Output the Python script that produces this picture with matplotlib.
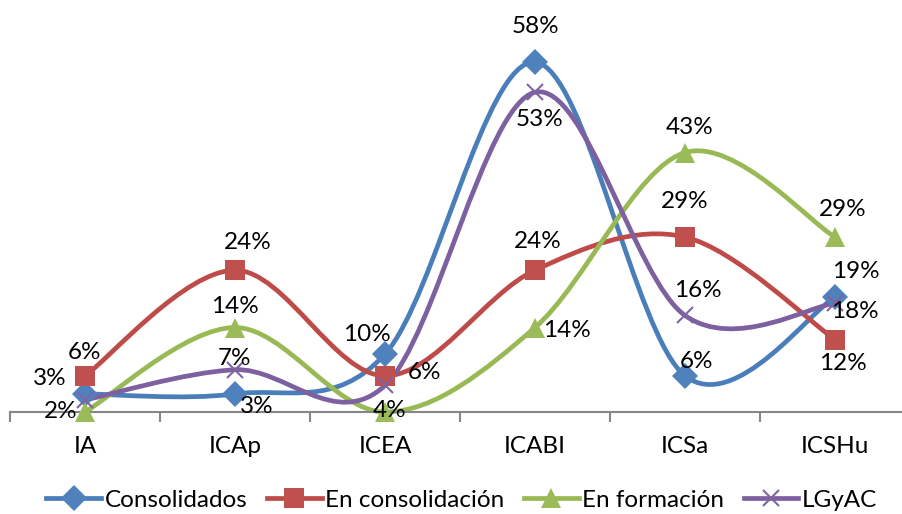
import numpy as np
import matplotlib
matplotlib.use('Agg')
import matplotlib.pyplot as plt
from matplotlib.path import Path
from matplotlib.patches import PathPatch
from matplotlib.lines import Line2D

plt.rcParams['font.family'] = ['Lato', 'DejaVu Sans']

# Data (percentages)
categorias = ['IA', 'ICAp', 'ICEA', 'ICABI', 'ICSa', 'ICSHu']
consolidados = [3, 3, 9.6, 58, 6, 19]
en_consolidacion = [6, 23.5, 6, 23.5, 29, 12]
en_formacion = [0, 14, 0, 14, 43, 29]
lgyac = [2, 7, 4.4, 53, 16, 18]
nombres = ['Consolidados', 'En consolidación', 'En formación', 'LGyAC']

# style per series: line colour, marker colour, marker, size
estilos = [
    ('#4A7EBB', '#4F81BD', 'D', 13),
    ('#BE4B48', '#C0504D', 's', 14),
    ('#98B954', '#9BBB59', '^', 15),
    ('#7D60A0', '#8064A2', 'x', 12),
]

# label offsets in pixels (None = no label)
offsets = [
    [(-35, 15), (22, -13), (-18, 20), (0, 36), (12, 14), (21, 26)],
    [(0, 23), (13, 28), (40, 3), (3, 29), (0, 36), (8, -24)],
    [None, (0, 21), None, (32, -3), (5, 25), (8, 28)],
    [(-24, -12), (0, 11), (5, -25), (5, -27), (13, 25), (20, -8)],
]

FS = 17.5


def smooth_path(xs, ys):
    # Catmull-Rom style bezier, like the spreadsheet smoothed line
    pts = np.column_stack([xs, ys]).astype(float)
    n = len(pts)
    verts = [pts[0]]
    codes = [Path.MOVETO]
    for i in range(n - 1):
        p0 = pts[max(i - 1, 0)]
        p1 = pts[i]
        p2 = pts[i + 1]
        p3 = pts[min(i + 2, n - 1)]
        c1 = p1 + (p2 - p0) / 6.0
        c2 = p2 - (p3 - p1) / 6.0
        verts += [c1, c2, p2]
        codes += [Path.CURVE4] * 3
    return Path(verts, codes)


fig = plt.figure(figsize=(9.02, 5.14), dpi=100)
ax = fig.add_axes([10 / 902, 102 / 514, 900 / 902, 362 / 514])

x = np.arange(len(categorias))
series = [consolidados, en_consolidacion, en_formacion, lgyac]

for k, vals in enumerate(series):
    lc, mc, mk, ms = estilos[k]
    patch = PathPatch(smooth_path(x, vals), facecolor='none', edgecolor=lc,
                      lw=3.4, clip_on=False, zorder=2 + k * 0.1, capstyle='round')
    ax.add_patch(patch)
    if mk == 'x':
        ax.plot(x, vals, linestyle='none', marker=mk, ms=ms, mew=1.5,
                color=mc, clip_on=False, zorder=3 + k * 0.1)
    else:
        ax.plot(x, vals, linestyle='none', marker=mk, ms=ms, mew=0,
                color=mc, clip_on=False, zorder=3 + k * 0.1)

for k, vals in enumerate(series):
    for i, v in enumerate(vals):
        off = offsets[k][i]
        if off is None:
            continue
        ax.annotate(f'{round(v)}%', (x[i], v), xytext=off, textcoords='offset pixels',
                    ha='center', va='center', fontsize=FS, color='black',
                    zorder=10, annotation_clip=False)

ax.set_xlim(-0.5, 5.5)
ax.set_ylim(0, 60)
for s in ['top', 'right', 'left']:
    ax.spines[s].set_visible(False)
ax.spines['bottom'].set_color('#868686')
ax.spines['bottom'].set_linewidth(1.5)
ax.set_yticks([])
ax.set_xticks(np.arange(-0.5, 6, 1))
ax.set_xticklabels([])
ax.tick_params(axis='x', which='major', length=7, width=1.5, color='#868686',
               direction='out')
ax.set_xticks(x, minor=True)
ax.set_xticklabels(categorias, minor=True, fontsize=FS)
ax.tick_params(axis='x', which='minor', length=0, pad=17)

handles = []
for k in range(4):
    lc, mc, mk, ms = estilos[k]
    handles.append(Line2D([], [], color=lc, lw=3.4, marker=mk, ms=ms,
                          markerfacecolor=mc, markeredgecolor=mc,
                          mew=1.5 if mk == 'x' else 0))
fig.legend(handles, nombres, loc='center', bbox_to_anchor=(0.512, 1 - 500 / 514),
           ncol=4, frameon=False, fontsize=FS, handlelength=2.25,
           handletextpad=0.15, columnspacing=0.8)

fig.savefig('out.png', dpi=100)
